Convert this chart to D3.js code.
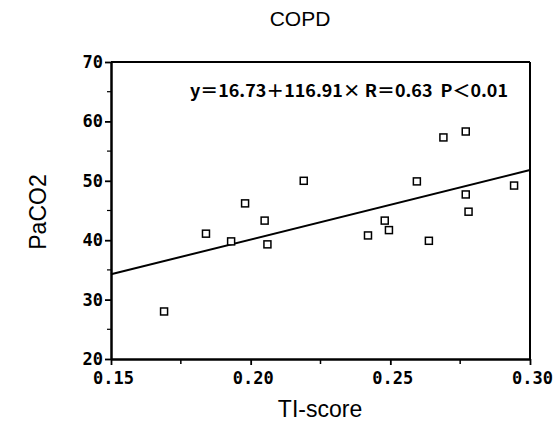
<!DOCTYPE html>
<html>
<head>
<meta charset="utf-8">
<script src="https://cdn.jsdelivr.net/npm/d3@7"></script>
<style>
  body { margin: 0; background: #fff; }
  svg { display: block; }
</style>
</head>
<body>
<script>
// TI-score vs PaCO2 in COPD patients, with regression line

const tiScore = [0.169, 0.184, 0.193, 0.198, 0.205, 0.206, 0.219, 0.242, 0.248, 0.2495,
                 0.2595, 0.2638, 0.269, 0.277, 0.277, 0.278, 0.2943];
const paco2 = [28.0, 41.1, 39.8, 46.2, 43.3, 39.3, 50.0, 40.8, 43.3, 41.7,
               49.9, 39.9, 57.3, 58.3, 47.7, 44.8, 49.2];
const xTicks = [0.15, 0.20, 0.25, 0.30];
const xMinor = [0.175, 0.225, 0.275];
const yTicks = [20, 30, 40, 50, 60, 70];
const yMinor = [25, 35, 45, 55, 65];
const fitIntercept = 16.73;
const fitSlope = 116.91;

const W = 557, H = 423;
const margin = {left: 111, right: 27, top: 62, bottom: 64};

const svg = d3.select("body").append("svg")
    .attr("width", W)
    .attr("height", H);

const x = d3.scaleLinear().domain([0.15, 0.30]).range([margin.left, W - margin.right]);
const y = d3.scaleLinear().domain([20, 70]).range([H - margin.bottom, margin.top]);

const labelFont = "'DejaVu Sans Mono', monospace";

// frame: top and right
svg.append("line")
    .attr("x1", x(0.15)).attr("x2", x(0.30))
    .attr("y1", y(70)).attr("y2", y(70))
    .attr("stroke", "#000").attr("stroke-width", 2);
svg.append("line")
    .attr("x1", x(0.30)).attr("x2", x(0.30))
    .attr("y1", y(70)).attr("y2", y(20))
    .attr("stroke", "#000").attr("stroke-width", 2);

// x axis
const xAxis = svg.append("g")
    .attr("transform", "translate(0," + y(20) + ")")
    .call(d3.axisBottom(x).tickValues(xTicks).tickFormat(d3.format(".2f")).tickSize(6).tickSizeOuter(0));
xAxis.select(".domain").attr("stroke-width", 2.5);
xAxis.selectAll(".tick line").attr("stroke-width", 1.8);
xAxis.selectAll("text")
    .attr("y", 0)
    .attr("dy", 25)
    .attr("dx", 2)
    .style("font-family", labelFont)
    .style("font-weight", "bold")
    .style("font-size", "17px");
svg.append("g").selectAll("line")
    .data(xMinor).enter().append("line")
    .attr("x1", d => x(d)).attr("x2", d => x(d))
    .attr("y1", y(20)).attr("y2", y(20) + 5)
    .attr("stroke", "#000").attr("stroke-width", 1.5);

// y axis
const yAxis = svg.append("g")
    .attr("transform", "translate(" + x(0.15) + ",0)")
    .call(d3.axisLeft(y).tickValues(yTicks).tickSize(6).tickSizeOuter(0));
yAxis.select(".domain").attr("stroke-width", 2.5);
yAxis.selectAll(".tick line").attr("stroke-width", 1.8);
yAxis.selectAll("text")
    .attr("x", -8)
    .style("font-family", labelFont)
    .style("font-weight", "bold")
    .style("font-size", "17px");
svg.append("g").selectAll("line")
    .data(yMinor).enter().append("line")
    .attr("x1", x(0.15) - 4).attr("x2", x(0.15))
    .attr("y1", d => y(d)).attr("y2", d => y(d))
    .attr("stroke", "#000").attr("stroke-width", 1.2);

// regression line
svg.append("line")
    .attr("x1", x(0.15)).attr("y1", y(fitIntercept + fitSlope * 0.15))
    .attr("x2", x(0.30)).attr("y2", y(fitIntercept + fitSlope * 0.30))
    .attr("stroke", "#000").attr("stroke-width", 2);

// points
const pts = tiScore.map((t, i) => ({t: t, p: paco2[i]}));
svg.selectAll("rect.pt")
    .data(pts).enter().append("rect")
    .attr("class", "pt")
    .attr("x", d => x(d.t) - 3.5)
    .attr("y", d => y(d.p) - 3.5)
    .attr("width", 7).attr("height", 7)
    .attr("fill", "#fff")
    .attr("stroke", "#000")
    .attr("stroke-width", 1.5);

// equation label
svg.append("text")
    .attr("x", 190).attr("y", 97)
    .attr("textLength", 318)
    .attr("lengthAdjust", "spacingAndGlyphs")
    .style("white-space", "pre")
    .style("font-family", "'Noto Sans CJK JP', sans-serif")
    .style("font-size", "17px")
    .style("font-weight", "bold")
    .text("y＝16.73＋116.91× R＝0.63  P＜0.01");

// title and axis titles
svg.append("text")
    .attr("x", 300).attr("y", 26)
    .attr("text-anchor", "middle")
    .style("font-family", "'Liberation Sans', Arial, sans-serif")
    .style("font-size", "21px")
    .text("COPD");

svg.append("text")
    .attr("x", 320).attr("y", 417)
    .attr("text-anchor", "middle")
    .style("font-family", "'Liberation Sans', Arial, sans-serif")
    .style("font-size", "23px")
    .text("TI-score");

svg.append("text")
    .attr("transform", "translate(46," + 212 + ") rotate(-90)")
    .attr("text-anchor", "middle")
    .style("font-family", "'Liberation Sans', Arial, sans-serif")
    .style("font-size", "23px")
    .text("PaCO2");
</script>
</body>
</html>
